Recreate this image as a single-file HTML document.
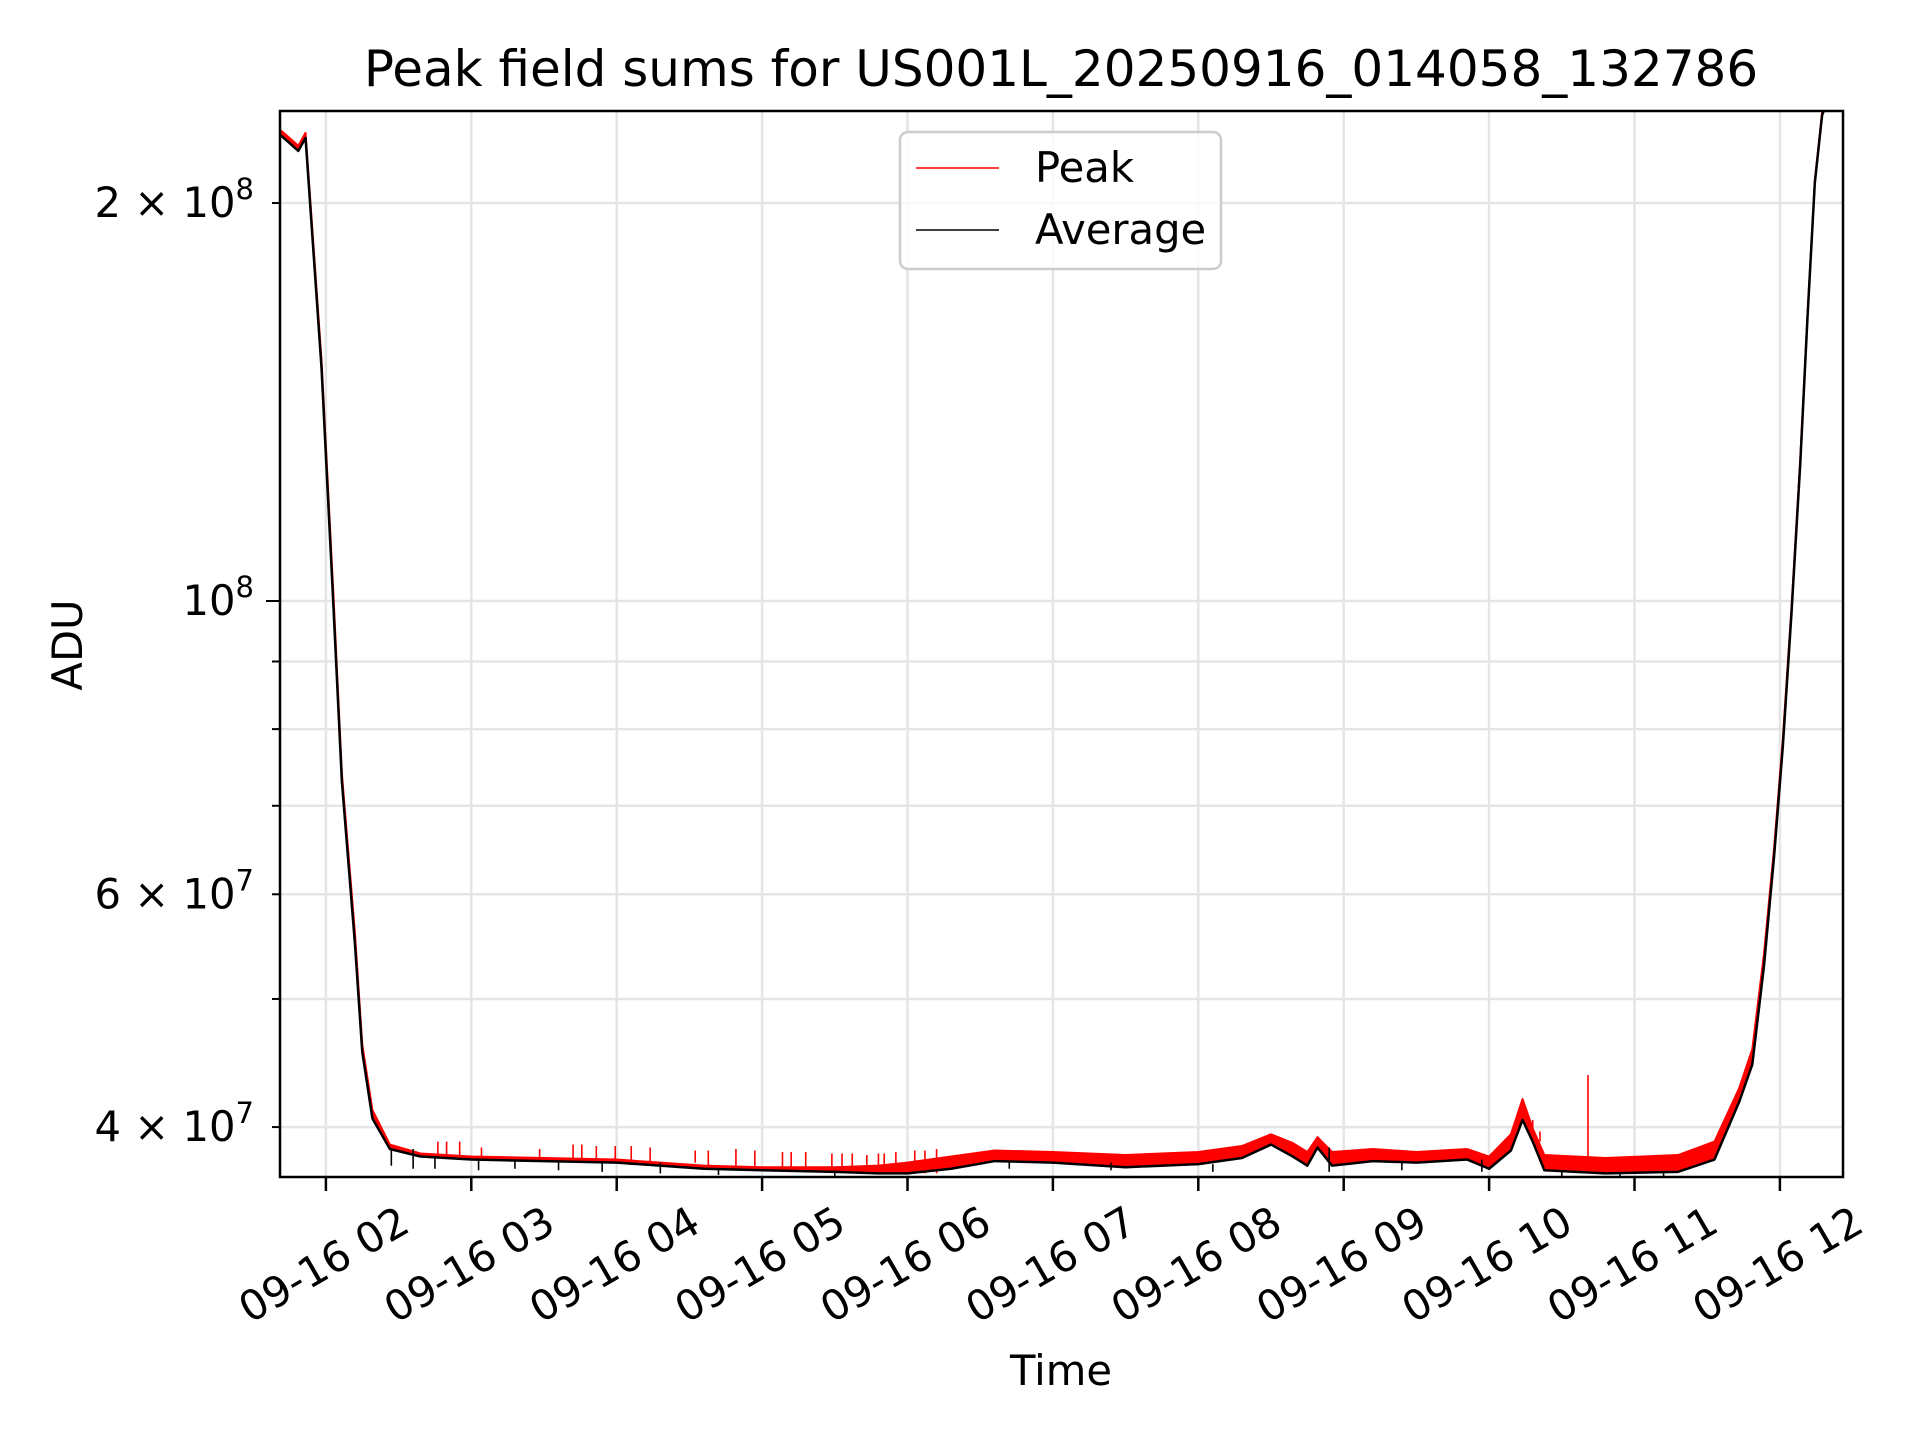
<!DOCTYPE html>
<html><head><meta charset="utf-8"><style>
html,body{margin:0;padding:0;background:#fff;}
svg{display:block;font-family:"DejaVu Sans","Liberation Sans",sans-serif;}
</style></head><body>
<svg id="chart" width="1920" height="1440" viewBox="0 0 1920 1440" xmlns="http://www.w3.org/2000/svg">
<rect width="1920" height="1440" fill="#fff"/>
<g id="grid"></g>
<g id="plot"></g>
<rect x="280" y="111" width="1563" height="1066" fill="none" stroke="#000" stroke-width="2.5"/>
<g id="ticks"></g>
<text x="1061" y="86" font-size="50" text-anchor="middle">Peak field sums for US001L_20250916_014058_132786</text>
<text x="1061" y="1385" font-size="41.7" text-anchor="middle">Time</text>
<text x="0" y="0" font-size="41.7" text-anchor="middle" transform="translate(82,645) rotate(-90)">ADU</text>
<g>
<rect x="900" y="132" width="321" height="137" rx="8" fill="#fff" fill-opacity="0.8" stroke="#ccc" stroke-width="2.5"/>
<line x1="916" y1="168" x2="999" y2="168" stroke="#f00" stroke-width="1.5"/>
<text x="1035" y="182" font-size="41.7">Peak</text>
<line x1="916" y1="230" x2="999" y2="230" stroke="#000" stroke-width="1.5"/>
<text x="1035" y="244" font-size="41.7">Average</text>
</g>
</svg>
<script>
// data (time in hours since 09-16 00:00, values in ADU)
const xTickHours = [2,3,4,5,6,7,8,9,10,11,12];
const xTickLabels = ["09-16 02","09-16 03","09-16 04","09-16 05","09-16 06","09-16 07","09-16 08","09-16 09","09-16 10","09-16 11","09-16 12"];
const yMajorVals = [2e8,1e8,6e7,4e7];
const yMajorExp = [["2","8"],["","8"],["6","7"],["4","7"]];
const yGridVals = [4e7,5e7,6e7,7e7,8e7,9e7,1e8,2e8];
const avgT = [1.69,1.75,1.81,1.86,1.97,2.05,2.11,2.20,2.25,2.32,2.44,2.65,3.0,3.5,4.0,4.6,5.0,5.5,5.8,6.0,6.3,6.6,7.0,7.5,8.0,8.3,8.5,8.65,8.75,8.82,8.92,9.2,9.5,9.85,10.0,10.15,10.23,10.3,10.38,10.8,11.3,11.55,11.72,11.81,11.89,11.96,12.02,12.08,12.14,12.19,12.24,12.29,12.45];
const avgV = [2.25e8,2.22e8,2.19e8,2.24e8,1.5e8,1.0e8,7.3e7,5.5e7,4.56e7,4.06e7,3.85e7,3.8e7,3.78e7,3.77e7,3.76e7,3.72e7,3.71e7,3.70e7,3.69e7,3.69e7,3.72e7,3.77e7,3.76e7,3.73e7,3.75e7,3.79e7,3.88e7,3.8e7,3.74e7,3.86e7,3.74e7,3.77e7,3.76e7,3.78e7,3.72e7,3.84e7,4.05e7,3.9e7,3.71e7,3.69e7,3.70e7,3.78e7,4.18e7,4.46e7,5.29e7,6.41e7,7.76e7,9.8e7,1.27e8,1.64e8,2.07e8,2.33e8,2.6e8];
const peakT = [1.69,1.75,1.81,1.86,1.97,2.05,2.11,2.20,2.25,2.32,2.44,2.65,3.0,3.5,4.0,4.6,5.0,5.5,5.8,6.0,6.3,6.6,7.0,7.5,8.0,8.3,8.5,8.65,8.75,8.82,8.92,9.2,9.5,9.85,10.0,10.15,10.23,10.3,10.38,10.8,11.3,11.55,11.72,11.81,11.89,11.96,12.02,12.08,12.14,12.19,12.24,12.29,12.45];
const peakV = [2.27e8,2.24e8,2.21e8,2.26e8,1.52e8,1.02e8,7.4e7,5.6e7,4.62e7,4.12e7,3.88e7,3.82e7,3.8e7,3.79e7,3.78e7,3.74e7,3.73e7,3.73e7,3.74e7,3.76e7,3.8e7,3.84e7,3.83e7,3.81e7,3.83e7,3.87e7,3.95e7,3.89e7,3.83e7,3.93e7,3.83e7,3.85e7,3.83e7,3.85e7,3.8e7,3.95e7,4.2e7,3.99e7,3.81e7,3.79e7,3.81e7,3.9e7,4.28e7,4.58e7,5.4e7,6.5e7,7.86e7,9.9e7,1.28e8,1.65e8,2.08e8,2.34e8,2.6e8];
const spikeT = [2.77,2.83,2.92,3.07,3.47,3.70,3.76,3.86,3.99,4.10,4.23,4.54,4.63,4.82,4.95,5.14,5.20,5.30,5.48,5.55,5.62,5.72,5.80,5.84,5.92,6.05,6.12,6.20,10.3,10.35,10.68];
const spikeV = [3.9e7,3.9e7,3.9e7,3.86e7,3.85e7,3.88e7,3.88e7,3.87e7,3.87e7,3.87e7,3.86e7,3.84e7,3.84e7,3.85e7,3.84e7,3.83e7,3.83e7,3.83e7,3.82e7,3.82e7,3.82e7,3.81e7,3.82e7,3.82e7,3.83e7,3.84e7,3.84e7,3.85e7,4.0e7,3.97e7,4.38e7];
const dipT = [2.45,2.6,2.75,3.05,3.3,3.6,3.9,4.3,4.7,5.5,6.7,7.4,8.1,8.9,9.4,9.95,10.5,10.9,11.2];
const dipV = [3.74e7,3.72e7,3.72e7,3.71e7,3.72e7,3.71e7,3.7e7,3.69e7,3.68e7,3.67e7,3.72e7,3.71e7,3.7e7,3.7e7,3.71e7,3.7e7,3.67e7,3.67e7,3.67e7];

const L=280,R=1843,T=111,B=1177;
const xH0=1, xPx0=180.5, pxPerH=145.4;
function X(h){return xPx0+(h-xH0)*pxPerH;}
const yRefV=1e8, yRefPx=601, pxPerDec=1322;
function Y(v){return yRefPx-(Math.log10(v)-Math.log10(yRefV))*pxPerDec;}
const NS="http://www.w3.org/2000/svg";
function el(tag,attrs,parent){const e=document.createElementNS(NS,tag);for(const k in attrs)e.setAttribute(k,attrs[k]);parent.appendChild(e);return e;}
const grid=document.getElementById('grid'),plot=document.getElementById('plot'),ticks=document.getElementById('ticks');

xTickHours.forEach((h,i)=>{
  const x=X(h);
  const g=el('line',{x1:x,y1:T,x2:x,y2:B,stroke:'#e5e5e5','stroke-width':2.5},grid);
  
  
  const t=el('line',{x1:x,y1:B,x2:x,y2:B+14,stroke:'#000','stroke-width':2.5},ticks);
  
  
  const lb=el('text',{'font-size':41.7,'text-anchor':'middle',transform:`translate(${x+5},${1277}) rotate(-30)`},ticks);
  lb.textContent=xTickLabels[i];
  
  
});
yGridVals.forEach(v=>{
  const y=Y(v);
  const g=el('line',{x1:L,y1:y,x2:R,y2:y,stroke:'#e5e5e5','stroke-width':2.5},grid);
  
  
  const t=el('line',{x1:L-(v===1e8?14:8),y1:y,x2:L,y2:y,stroke:'#000','stroke-width':2},ticks);
  
  
});
yMajorVals.forEach((v,i)=>{
  const y=Y(v);
  const lb=el('text',{x:254,y:y+14,'font-size':41.7,'text-anchor':'end'},ticks);
  
  
  const m=yMajorExp[i][0], e=yMajorExp[i][1];
  lb.innerHTML=(m?m+' × ':'')+'10<tspan dy="-18" font-size="29">'+e+'</tspan>';
});

const clip=el('clipPath',{id:'cp'},document.getElementById('chart'));
el('rect',{x:L,y:T,width:R-L,height:B-T},clip);
plot.setAttribute('clip-path','url(#cp)');

let band='';
peakT.forEach((t,i)=>{band+=(i?'L':'M')+X(t).toFixed(1)+','+Y(peakV[i]).toFixed(1);});
for(let i=avgT.length-1;i>=0;i--) band+='L'+X(avgT[i]).toFixed(1)+','+Y(avgV[i]).toFixed(1);
const bandEl=el('path',{d:band+'Z',fill:'#f00',stroke:'none'},plot);



const pk=el('polyline',{points:peakT.map((t,i)=>X(t)+','+Y(peakV[i])).join(' '),fill:'none',stroke:'#f00','stroke-width':2,'stroke-linejoin':'round'},plot);



spikeT.forEach((t,i)=>{
  let j=0;while(j<avgT.length-1&&avgT[j+1]<t)j++;
  const s=el('line',{x1:X(t),x2:X(t),y1:Y(avgV[j]),y2:Y(spikeV[i]),stroke:'#f00','stroke-width':1.6},plot);
  
  
});

const av=el('polyline',{points:avgT.map((t,i)=>X(t)+','+Y(avgV[i])).join(' '),fill:'none',stroke:'#000','stroke-width':2.5,'stroke-linejoin':'round'},plot);



dipT.forEach((t,i)=>{
  let j=0;while(j<avgT.length-1&&avgT[j+1]<t)j++;
  const s=el('line',{x1:X(t),x2:X(t),y1:Y(avgV[j]),y2:Y(dipV[i]),stroke:'#000','stroke-width':1.6},plot);
  
  
});
</script>
</body></html>
